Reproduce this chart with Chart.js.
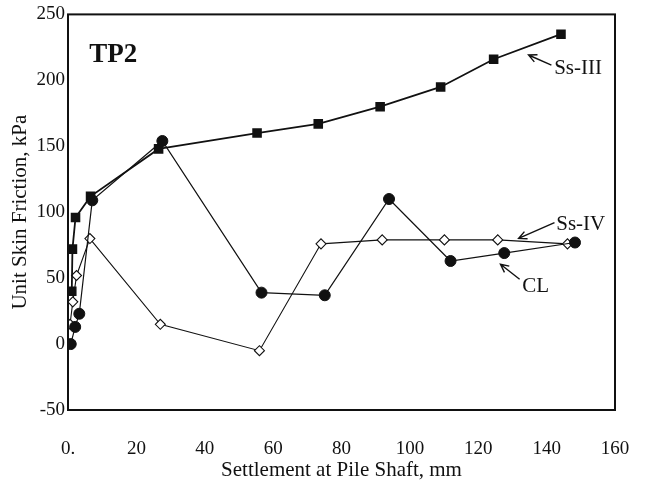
<!DOCTYPE html>
<html>
<head>
<meta charset="utf-8">
<script src="https://cdn.jsdelivr.net/npm/chart.js@4.4.0/dist/chart.umd.min.js"></script>
<style>
  html, body { margin: 0; padding: 0; background: #fff; }
  #wrap { width: 647px; height: 487px; }
</style>
</head>
<body>
<div id="wrap"><canvas id="chart"></canvas></div>
<script>
// TP2 - settlement at pile shaft (mm) vs unit skin friction (kPa)
const ssIIIx = [1.1, 1.3, 2.2, 6.6, 26.5, 55.3, 73.2, 91.3, 109.0, 124.5, 144.2];
const ssIIIy = [40, 72, 96, 112, 148, 160, 167, 180, 195, 216, 235];
const ssIVx = [0.6, 1.4, 2.5, 6.4, 27.0, 56.0, 74.0, 91.9, 110.1, 125.7, 146.1];
const ssIVy = [15, 32, 52, 80, 15, -5, 76, 79, 79, 79, 76];
const clX = [0.8, 2.1, 3.3, 7.1, 27.6, 56.6, 75.1, 93.9, 111.9, 127.6, 148.3];
const clY = [0, 13, 23, 109, 154, 39, 37, 110, 63, 69, 77];
const xTicks = [0, 20, 40, 60, 80, 100, 120, 140, 160];
const yTicks = [-50, 0, 50, 100, 150, 200, 250];

const serif = "'Liberation Serif', 'Times New Roman', serif";

const pts = (xs, ys) => xs.map((x, i) => ({ x: x, y: ys[i] }));

// text labels + arrows, placed in data units
const notes = [
    { text: 'TP2', x: 6.2, y: 219, font: 'bold 27px ' + serif },
    { text: 'Ss-III', x: 142.2, y: 209, tail: [141.4, 211.5], head: [134.7, 219.2] },
    { text: 'Ss-IV', x: 142.8, y: 91, tail: [142.3, 92.1], head: [131.8, 80.1] },
    { text: 'CL', x: 132.9, y: 44, tail: [132.1, 49.2], head: [126.5, 60.5] }
];

const notesPlugin = {
    id: 'notes',
    afterDraw(chart) {
        const ctx = chart.ctx;
        const xs = chart.scales.x, ys = chart.scales.y;
        const a = chart.chartArea;
        ctx.save();
        // frame round the plot
        ctx.strokeStyle = '#111';
        ctx.lineWidth = 2;
        ctx.strokeRect(a.left, a.top, a.right - a.left, a.bottom - a.top);

        ctx.fillStyle = '#111';
        ctx.textBaseline = 'middle';
        ctx.textAlign = 'left';
        notes.forEach(n => {
            ctx.font = n.font || ('21px ' + serif);
            ctx.fillText(n.text, xs.getPixelForValue(n.x), ys.getPixelForValue(n.y));
            if (n.tail) {
                const x1 = xs.getPixelForValue(n.tail[0]), y1 = ys.getPixelForValue(n.tail[1]);
                const x2 = xs.getPixelForValue(n.head[0]), y2 = ys.getPixelForValue(n.head[1]);
                const ang = Math.atan2(y2 - y1, x2 - x1);
                ctx.lineWidth = 1.4;
                ctx.beginPath();
                ctx.moveTo(x1, y1);
                ctx.lineTo(x2, y2);
                ctx.moveTo(x2 - 9 * Math.cos(ang - 0.45), y2 - 9 * Math.sin(ang - 0.45));
                ctx.lineTo(x2, y2);
                ctx.lineTo(x2 - 9 * Math.cos(ang + 0.45), y2 - 9 * Math.sin(ang + 0.45));
                ctx.stroke();
            }
        });
        ctx.restore();
    }
};

new Chart(document.getElementById('chart'), {
    type: 'line',
    data: {
        datasets: [{
            label: 'CL',
            data: pts(clX, clY),
            borderColor: '#111',
            borderWidth: 1.2,
            pointStyle: 'circle',
            pointRadius: 5.5,
            pointBackgroundColor: '#111',
            pointBorderColor: '#111',
            pointBorderWidth: 1,
            tension: 0
        }, {
            label: 'Ss-III',
            data: pts(ssIIIx, ssIIIy),
            borderColor: '#111',
            borderWidth: 1.8,
            pointStyle: 'rect',
            pointRadius: 5.5,
            pointBackgroundColor: '#111',
            pointBorderColor: '#111',
            tension: 0
        }, {
            label: 'Ss-IV',
            data: pts(ssIVx, ssIVy),
            borderColor: '#111',
            borderWidth: 1.1,
            pointStyle: 'rectRot',
            pointRadius: 5,
            pointBackgroundColor: '#fff',
            pointBorderColor: '#111',
            pointBorderWidth: 1.1,
            tension: 0
        }]
    },
    options: {
        responsive: true,
        maintainAspectRatio: false,
        animation: false,
        events: [],
        layout: {
            padding: { top: 11, right: 32, left: 0, bottom: 0 }
        },
        plugins: {
            legend: { display: false },
            tooltip: { enabled: false }
        },
        scales: {
            x: {
                type: 'linear',
                min: 0,
                max: 160,
                afterBuildTicks: s => { s.ticks = xTicks.map(v => ({ value: v })); },
                afterFit: s => { s.height = 77; s.paddingRight = 0; s.paddingLeft = 0; },
                grid: { display: false },
                border: { display: false },
                ticks: {
                    color: '#111',
                    padding: 20,
                    maxRotation: 0,
                    font: { family: serif, size: 19 },
                    callback: v => v === 0 ? '0.' : v
                },
                title: {
                    display: true,
                    text: 'Settlement at Pile Shaft, mm',
                    color: '#111',
                    font: { family: serif, size: 21 },
                    padding: { top: 0, bottom: 4 }
                }
            },
            y: {
                min: -50,
                max: 250,
                afterBuildTicks: s => { s.ticks = yTicks.map(v => ({ value: v })); },
                afterFit: s => { s.width = 68; },
                grid: { display: false, tickLength: 0 },
                border: { display: false },
                ticks: {
                    color: '#111',
                    padding: 3,
                    font: { family: serif, size: 19 }
                },
                title: {
                    display: true,
                    text: 'Unit Skin Friction, kPa',
                    color: '#111',
                    font: { family: serif, size: 21 },
                    padding: { top: 8, bottom: 0 }
                }
            }
        }
    },
    plugins: [notesPlugin]
});
</script>
</body>
</html>
